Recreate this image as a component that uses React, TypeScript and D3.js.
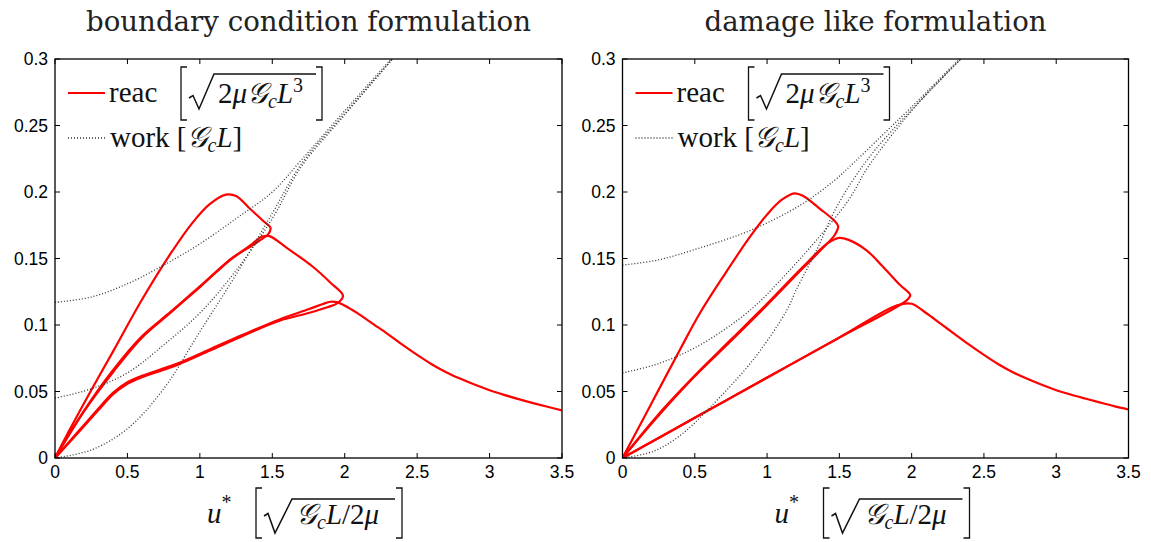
import React from 'react'
import * as d3 from 'd3'

type Pt = [number, number]

// axis ticks
const X_TICKS = [0, 0.5, 1, 1.5, 2, 2.5, 3, 3.5]
const X_LABELS = ['0', '0.5', '1', '1.5', '2', '2.5', '3', '3.5']
const Y_TICKS = [0, 0.05, 0.1, 0.15, 0.2, 0.25, 0.3]
const Y_LABELS = ['0', '0.05', '0.1', '0.15', '0.2', '0.25', '0.3']

// softening tail shared look, read separately per panel
// boundary condition formulation: reaction force branches (u*, F)
const bcReac1: Pt[] = [[0, 0], [0.1, 0.021], [0.25, 0.051], [0.4, 0.08], [0.6, 0.119], [0.8, 0.154], [0.95, 0.177], [1.07, 0.191], [1.18, 0.198], [1.25, 0.197], [1.35, 0.187], [1.44, 0.178], [1.488, 0.173], [1.47, 0.168], [1.44, 0.1655], [1.35, 0.159], [1.23, 0.151], [1.0, 0.129], [0.8, 0.11], [0.6, 0.0915], [0.4, 0.066], [0.2, 0.0355], [0, 0]]
const bcReac2: Pt[] = [[0, 0], [0.2, 0.035], [0.4, 0.0645], [0.6, 0.0905], [0.8, 0.1095], [1.0, 0.1285], [1.2, 0.148], [1.35, 0.16], [1.43, 0.1665], [1.48, 0.1668], [1.6, 0.158], [1.78, 0.1438], [1.9, 0.132], [1.988, 0.122], [1.95, 0.1165], [1.885, 0.1135], [1.75, 0.109], [1.55, 0.1032], [1.3, 0.092], [1.07, 0.0808], [0.84, 0.0698], [0.6, 0.0608], [0.5, 0.0558], [0.4, 0.0478], [0.3, 0.036], [0.2, 0.0238], [0.1, 0.0118], [0, 0]]
const bcReac3: Pt[] = [[0, 0], [0.1, 0.0125], [0.2, 0.0248], [0.3, 0.0372], [0.4, 0.049], [0.5, 0.057], [0.6, 0.0618], [0.84, 0.0708], [1.07, 0.0818], [1.3, 0.0928], [1.55, 0.1042], [1.75, 0.1118], [1.85, 0.1158], [1.9, 0.1175], [1.95, 0.117], [2.05, 0.1115], [2.1, 0.108], [2.2, 0.1005], [2.3, 0.093], [2.4, 0.085], [2.5, 0.0775], [2.6, 0.0705], [2.7, 0.0645], [2.8, 0.0595], [2.9, 0.055], [3.0, 0.051], [3.1, 0.0475], [3.2, 0.0443], [3.3, 0.0413], [3.4, 0.0385], [3.5, 0.0358]]

// boundary condition formulation: work curves
const bcWork1: Pt[] = [[0, 0.117], [0.25, 0.121], [0.5, 0.131], [0.75, 0.145], [1.0, 0.161], [1.25, 0.18], [1.5, 0.2], [1.7, 0.224], [2.0, 0.261], [2.32, 0.3]]
const bcWork2: Pt[] = [[0, 0.045], [0.25, 0.052], [0.5, 0.064], [0.75, 0.085], [1.0, 0.109], [1.25, 0.141], [1.5, 0.18], [1.7, 0.219], [2.0, 0.258], [2.33, 0.3]]
const bcWork3: Pt[] = [[0, 0], [0.25, 0.006], [0.5, 0.022], [0.75, 0.052], [1.0, 0.095], [1.25, 0.138], [1.5, 0.184], [1.7, 0.221], [2.0, 0.259], [2.33, 0.3]]

// damage like formulation: reaction force branches
const dmReac1: Pt[] = [[0, 0], [0.2, 0.041], [0.4, 0.082], [0.536, 0.109], [0.7, 0.137], [0.88, 0.166], [1.0, 0.183], [1.1, 0.194], [1.19, 0.199], [1.25, 0.197], [1.37, 0.187], [1.46, 0.179], [1.492, 0.1744], [1.47, 0.168], [1.44, 0.164], [1.25, 0.143], [1.0, 0.115], [0.75, 0.088], [0.5, 0.0615], [0.25, 0.032], [0, 0]]
const dmReac2: Pt[] = [[0, 0], [0.25, 0.033], [0.5, 0.062], [0.75, 0.089], [1.0, 0.116], [1.25, 0.144], [1.42, 0.1615], [1.5, 0.1655], [1.564, 0.164], [1.69, 0.156], [1.8, 0.144], [1.92, 0.13], [1.99, 0.1225], [1.965, 0.1185], [1.5, 0.0905], [1.0, 0.0605], [0.5, 0.0302], [0, 0]]
const dmReac3: Pt[] = [[0, 0], [0.5, 0.0302], [1.0, 0.0604], [1.5, 0.0906], [1.9, 0.1148], [2.0, 0.116], [2.1, 0.109], [2.2, 0.101], [2.3, 0.093], [2.4, 0.085], [2.5, 0.0775], [2.6, 0.0705], [2.7, 0.0645], [2.8, 0.0595], [2.9, 0.055], [3.0, 0.051], [3.1, 0.0477], [3.2, 0.0447], [3.3, 0.0418], [3.4, 0.039], [3.5, 0.0365]]

// damage like formulation: work curves
const dmWork1: Pt[] = [[0, 0.145], [0.25, 0.149], [0.536, 0.158], [0.882, 0.171], [1.228, 0.19], [1.458, 0.208], [1.6, 0.222], [1.8, 0.243], [2.0, 0.264], [2.33, 0.3]]
const dmWork2: Pt[] = [[0, 0.064], [0.25, 0.071], [0.536, 0.085], [0.882, 0.111], [1.112, 0.136], [1.343, 0.164], [1.564, 0.194], [1.7, 0.219], [2.0, 0.261], [2.34, 0.3]]
const dmWork3: Pt[] = [[0, 0], [0.213, 0.005], [0.4, 0.017], [0.605, 0.038], [0.905, 0.074], [1.136, 0.111], [1.2, 0.126], [1.35, 0.158], [1.458, 0.184], [1.6, 0.21], [1.75, 0.232], [2.0, 0.262], [2.34, 0.3]]

const W = 1151
const H = 542
const Y_TOP = 59
const Y_BOT = 458
const SERIF = 'Liberation Serif'
const SANS = 'Liberation Sans, Arial, sans-serif'
const G = '\u{1D4A2}'
const DOT = { stroke: '#333', strokeWidth: 1.3, strokeDasharray: '1 2' }

function Panel({ id, x0, x1, title, titleWidth, reac, work }: { id: string, x0: number, x1: number, title: string, titleWidth: number, reac: Pt[][], work: Pt[][] }) {
    const xs = d3.scaleLinear().domain([0, 3.5]).range([x0, x1])
    const ys = d3.scaleLinear().domain([0, 0.3]).range([Y_BOT, Y_TOP])
    const line = d3.line<Pt>()
        .x(d => xs(d[0]))
        .y(d => ys(d[1]))
        .curve(d3.curveCatmullRom.alpha(0.5))
    const cx = (x0 + x1) / 2
    const lx = x0 + 13 // legend left

    return (
        <g>
            <defs>
                <clipPath id={id}>
                    <rect x={x0} y={Y_TOP} width={x1 - x0} height={Y_BOT - Y_TOP} />
                </clipPath>
            </defs>
            <text x={cx} y={31} textAnchor="middle" fontFamily="DejaVu Serif" fontSize={28}
                textLength={titleWidth} lengthAdjust="spacingAndGlyphs" fill="#222">{title}</text>

            <g clipPath={`url(#${id})`}>
                {reac.map((b, i) => (
                    <path key={'r' + i} d={line(b) || ''} fill="none" stroke="#ff0000" strokeWidth={2.2} strokeLinejoin="round" />
                ))}
                {work.map((b, i) => (
                    <path key={'w' + i} d={line(b) || ''} fill="none" {...DOT} />
                ))}
            </g>

            {/* box + ticks */}
            <rect x={x0} y={Y_TOP} width={x1 - x0} height={Y_BOT - Y_TOP} fill="none" stroke="#000" strokeWidth={1.3} />
            {X_TICKS.map((t, i) => (
                <g key={'x' + i}>
                    <line x1={xs(t)} x2={xs(t)} y1={Y_BOT} y2={Y_BOT - 5} stroke="#000" />
                    <line x1={xs(t)} x2={xs(t)} y1={Y_TOP} y2={Y_TOP + 5} stroke="#000" />
                    <text x={xs(t)} y={Y_BOT + 20} textAnchor="middle" fontFamily={SANS} fontSize={17.5}>{X_LABELS[i]}</text>
                </g>
            ))}
            {Y_TICKS.map((t, i) => (
                <g key={'y' + i}>
                    <line x1={x0} x2={x0 + 5} y1={ys(t)} y2={ys(t)} stroke="#000" />
                    <line x1={x1} x2={x1 - 5} y1={ys(t)} y2={ys(t)} stroke="#000" />
                    <text x={x0 - 7} y={ys(t)} dy="0.36em" textAnchor="end" fontFamily={SANS} fontSize={17.5}>{Y_LABELS[i]}</text>
                </g>
            ))}

            {/* legend */}
            <g fill="#111" fontFamily={SERIF}>
                <line x1={lx} x2={lx + 37} y1={93} y2={93} stroke="#ff0000" strokeWidth={2.2} />
                <text x={lx + 41} y={102} fontSize={29}>reac</text>
                <path d={`M${lx + 119},67 H${lx + 113} V120 H${lx + 119}`} fill="none" stroke="#111" strokeWidth={1.3} />
                <path d={`M${lx + 121},98 L${lx + 125},95.5 L${lx + 131},109 L${lx + 146},74 H${lx + 248}`} fill="none" stroke="#111" strokeWidth={1.5} />
                <text x={lx + 150} y={103} fontSize={29}>
                    <tspan>2</tspan>
                    <tspan fontStyle="italic">μ{G}</tspan>
                    <tspan fontStyle="italic" fontSize={20} dy={5}>c</tspan>
                    <tspan fontStyle="italic" dy={-5}>L</tspan>
                    <tspan fontSize={20} dy={-11}>3</tspan>
                </text>
                <path d={`M${lx + 248},67 H${lx + 254} V120 H${lx + 248}`} fill="none" stroke="#111" strokeWidth={1.3} />

                <line x1={lx} x2={lx + 37} y1={138} y2={138} {...DOT} />
                <text x={lx + 42} y={147} fontSize={29}>
                    <tspan>work [</tspan>
                    <tspan fontStyle="italic">{G}</tspan>
                    <tspan fontStyle="italic" fontSize={20} dy={5}>c</tspan>
                    <tspan fontStyle="italic" dy={-5}>L</tspan>
                    <tspan>]</tspan>
                </text>
            </g>

            {/* x axis label */}
            <g fill="#111" fontFamily={SERIF}>
                <text x={x0 + 152} y={523} fontSize={29}>
                    <tspan fontStyle="italic">u</tspan>
                    <tspan fontSize={20} dy={-14}>*</tspan>
                </text>
                <path d={`M${x0 + 207},488 H${x0 + 201} V538 H${x0 + 207}`} fill="none" stroke="#111" strokeWidth={1.3} />
                <path d={`M${x0 + 209},516 L${x0 + 213},513.5 L${x0 + 220},533 L${x0 + 237},499 H${x0 + 340}`} fill="none" stroke="#111" strokeWidth={1.5} />
                <text x={x0 + 241} y={524} fontSize={29}>
                    <tspan fontStyle="italic">{G}</tspan>
                    <tspan fontStyle="italic" fontSize={20} dy={5}>c</tspan>
                    <tspan fontStyle="italic" dy={-5}>L</tspan>
                    <tspan>/2</tspan>
                    <tspan fontStyle="italic">μ</tspan>
                </text>
                <path d={`M${x0 + 341},488 H${x0 + 347} V538 H${x0 + 341}`} fill="none" stroke="#111" strokeWidth={1.3} />
            </g>
        </g>
    )
}

export default function App() {
    return (
        <svg width={W} height={H} style={{ position: 'absolute', left: 0, top: 0, background: '#fff' }}>
            <Panel id="clipA" x0={55} x1={562} title="boundary condition formulation" titleWidth={445}
                reac={[bcReac1, bcReac2, bcReac3]} work={[bcWork1, bcWork2, bcWork3]} />
            <Panel id="clipB" x0={622.5} x1={1128.5} title="damage like formulation" titleWidth={342}
                reac={[dmReac1, dmReac2, dmReac3]} work={[dmWork1, dmWork2, dmWork3]} />
        </svg>
    )
}
